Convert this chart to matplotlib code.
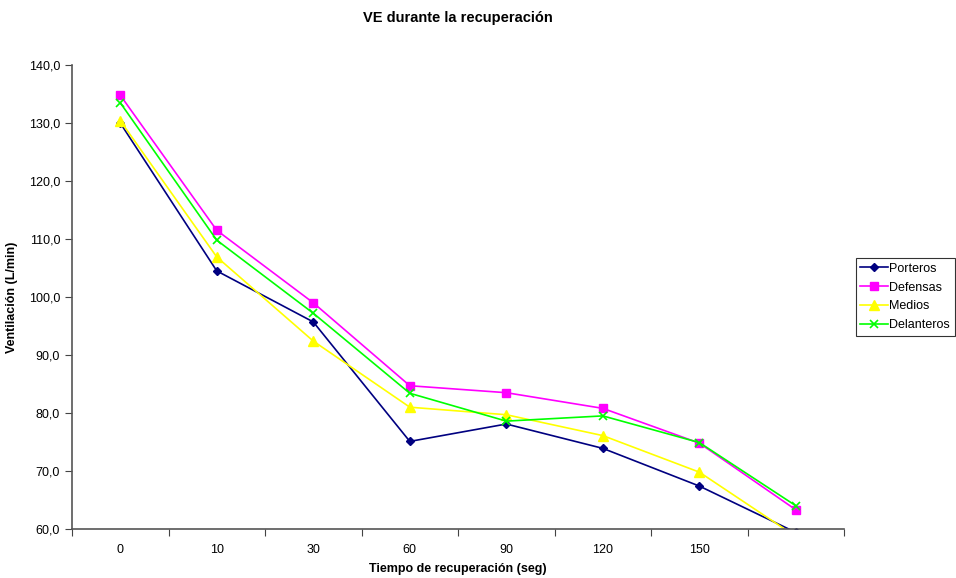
import matplotlib.pyplot as plt
import matplotlib.ticker as mticker

plt.rcParams['font.family'] = ['Liberation Sans', 'DejaVu Sans']

# Datos
tiempos = ['0', '10', '30', '60', '90', '120', '150', '']
porteros = [130.0, 104.5, 95.7, 75.1, 78.1, 73.9, 67.4, 59.4]
defensas = [134.8, 111.5, 99.0, 84.7, 83.5, 80.8, 74.8, 63.3]
medios = [130.4, 106.9, 92.4, 81.0, 79.7, 76.1, 69.8, 58.7]
delanteros = [133.5, 109.8, 97.2, 83.4, 78.6, 79.5, 74.9, 64.0]

fig = plt.figure(figsize=(9.56, 5.78), dpi=100)
ax = fig.add_axes([0.0753, 0.0848, 0.8077, 0.8027])

x = range(len(tiempos))
ax.plot(x, porteros, color='#000080', marker='D', markersize=4.5, lw=1.2, label='Porteros')
ax.plot(x, defensas, color='#FF00FF', marker='s', markersize=6, lw=1.2, label='Defensas')
ax.plot(x, medios, color='#FFFF00', marker='^', markersize=6.5, lw=1.2, label='Medios')
ax.plot(x, delanteros, color='#00FF00', marker='x', markersize=6, mew=1.2, lw=1.2, label='Delanteros')

ax.set_xlim(-0.5, len(tiempos) - 0.5)
ax.set_ylim(60, 140)
ax.yaxis.set_major_locator(mticker.MultipleLocator(10))
ax.yaxis.set_major_formatter(mticker.FuncFormatter(lambda v, p: f'{v:.1f}'.replace('.', ',')))

# ticks entre categorias, etiquetas centradas
ax.set_xticks([i - 0.5 for i in range(len(tiempos) + 1)])
ax.set_xticklabels([])
ax.set_xticks(list(x), minor=True)
ax.set_xticklabels(tiempos, minor=True)
ax.tick_params(axis='x', which='minor', length=0, pad=11, labelsize=9)
ax.tick_params(axis='x', which='major', length=5, direction='out', color='#444444')
ax.tick_params(axis='y', length=5, direction='out', labelsize=9, color='#444444')

for s in ['top', 'right']:
    ax.spines[s].set_visible(False)
for s in ['left', 'bottom']:
    ax.spines[s].set_color('#555555')
    ax.spines[s].set_linewidth(1.2)

ax.set_title('VE durante la recuperación', fontsize=10.5, fontweight='bold', y=1.0, pad=31)
ax.set_xlabel('Tiempo de recuperación (seg)', fontsize=9, fontweight='bold', labelpad=5)
ax.set_ylabel('Ventilación (L/min)', fontsize=9, fontweight='bold', labelpad=8)

leg = ax.legend(loc='center left', bbox_to_anchor=(1.015, 0.5), fontsize=9, frameon=True,
                fancybox=False, edgecolor='black', handlelength=2.2, borderpad=0.35,
                labelspacing=0.55, handletextpad=0.15, borderaxespad=0)
leg.get_frame().set_linewidth(0.8)

fig.savefig('out.png', dpi=100)
